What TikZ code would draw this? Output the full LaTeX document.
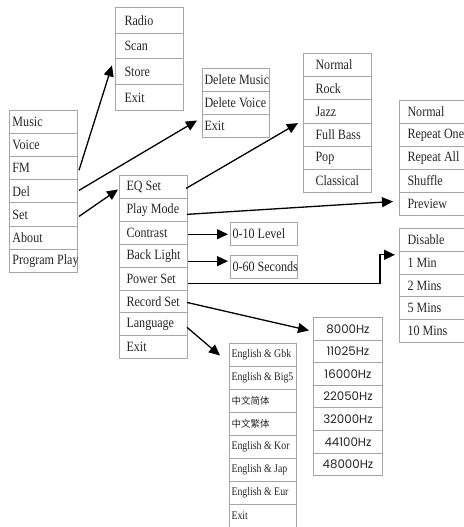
\documentclass[tikz,border=0pt]{standalone}
\usepackage{fontspec}
\setmainfont[FakeStretch=0.85]{Liberation Serif}
\newfontfamily\hzfont{Poppins}
\newfontfamily\cjkfont{Noto Sans CJK SC}
\usetikzlibrary{arrows.meta,calc}
\tikzset{
  menurow/.style={draw=gray!70, line width=1pt, anchor=north west, inner ysep=0pt,
    text=black!85, font=\fontsize{14.2}{14}\selectfont},
  langrow/.style={menurow, font=\fontsize{11.6}{12}\selectfont},
  hzrow/.style={menurow, font=\hzfont\fontsize{11.8}{12}\selectfont},
  arr/.style={-{Triangle[length=11pt,width=10pt]}, line width=1.3pt, black}
}
\begin{document}
\begin{tikzpicture}[x=1pt,y=-1pt]
\fill[white] (0,0) rectangle (463,527);
\useasboundingbox (0,0) rectangle (463,527);
% main menu
\foreach \t [count=\i] in {Music,Voice,FM,Del,Set,About,Program Play}
  \node[menurow, inner xsep=3pt, minimum height=23.1pt] (L\i) at (9,{110+(\i-1)*23.1}) {\makebox[62pt][l]{\t}};
% FM menu
\foreach \t [count=\i] in {Radio,Scan,Store,Exit}
  \node[menurow, inner xsep=9pt, minimum height=25.75pt] (R\i) at (115,{7+(\i-1)*25.75}) {\makebox[50pt][l]{\t}};
% Del menu
\foreach \t [count=\i] in {Delete Music,Delete Voice,Exit}
  \node[menurow, inner xsep=2pt, minimum height=23pt] (D\i) at (202,{68+(\i-1)*23}) {\makebox[63pt][l]{\t}};
% EQ menu
\foreach \t [count=\i] in {Normal,Rock,Jazz,Full Bass,Pop,Classical}
  \node[menurow, inner xsep=12pt, minimum height=23.2pt] (E\i) at (303,{53+(\i-1)*23.2}) {\makebox[44pt][l]{\t}};
% Set menu
\foreach \t [count=\i] in {EQ Set,Play Mode,Contrast,Back Light,Power Set,Record Set,Language,Exit}
  \node[menurow, inner xsep=7pt, minimum height=22.9pt] (S\i) at (119,{175+(\i-1)*22.9}) {\makebox[54pt][l]{\t}};
% Play mode menu
\foreach \t [count=\i] in {Normal,Repeat One,Repeat All,Shuffle,Preview}
  \node[menurow, inner xsep=8pt, minimum height=23pt] (P\i) at (399,{100+(\i-1)*23}) {\makebox[58pt][l]{\t}};
% Power menu
\foreach \t [count=\i] in {Disable,1 Min,2 Mins,5 Mins,10 Mins}
  \node[menurow, inner xsep=8pt, minimum height=22.8pt] (W\i) at (399,{228+(\i-1)*22.8}) {\makebox[58pt][l]{\t}};
% Contrast and back light
\node[menurow, inner xsep=2pt, minimum height=23pt] (C) at (230,222) {\makebox[63pt][l]{0-10 Level}};
\node[menurow, inner xsep=2pt, minimum height=23pt] (B) at (230,255) {\makebox[63pt][l]{0-60 Seconds}};
% Record menu
\foreach \t [count=\i] in {8000Hz,11025Hz,16000Hz,22050Hz,32000Hz,44100Hz,48000Hz}
  \node[hzrow, inner xsep=2pt, minimum height=22.6pt] (H\i) at (313,{317+(\i-1)*22.6}) {\makebox[65pt][c]{\t}};
% Language menu
\foreach \t [count=\i] in {English \& Gbk,English \& Big5,{\cjkfont\fontsize{9.5}{10}\selectfont 中文简体},{\cjkfont\fontsize{9.5}{10}\selectfont 中文繁体},English \& Kor,English \& Jap,English \& Eur,Exit}
  \node[langrow, inner xsep=2pt, minimum height=23pt] (G\i) at (229,{343+(\i-1)*23}) {\makebox[63pt][l]{\t}};
% arrows
\draw[arr] ($(L3.east)+(1,2)$) -- ($(R3.west)+(-3,-6.5)$);
\draw[arr] ($(L4.east)+(1,-1)$) -- ($(D3.west)+(-5,-5.5)$);
\draw[arr] ($(L5.east)+(1,2)$) -- ($(S1.west)+(-1,2.5)$);
\draw[arr] ($(S1.east)+(-2,1.5)$) -- ($(E4.north west)+(-5,0.5)$);
\draw[arr] ($(S2.east)+(-1,4.5)$) -- ($(P5.west)+(-6,-2.5)$);
\draw[arr] ($(S3.east)+(0,1.5)$) -- ($(S3.east -| C.west)+(-2,1.5)$);
\draw[arr] ($(S4.east)+(0,5.5)$) -- ($(S4.east -| B.west)+(-2,5.5)$);
\draw[arr] ($(S5.east)+(0,5)$) -| ($(W2.north west)+(-19,4)$) -- ($(W2.north west)+(-4,4)$);
\draw[arr] ($(S6.east)+(-1,1)$) -- ($(H1.west)+(-4,1.7)$);
\draw[arr] ($(S7.east)+(-1,3)$) -- ($(G1.west)+(-9,0.5)$);
\end{tikzpicture}
\end{document}
